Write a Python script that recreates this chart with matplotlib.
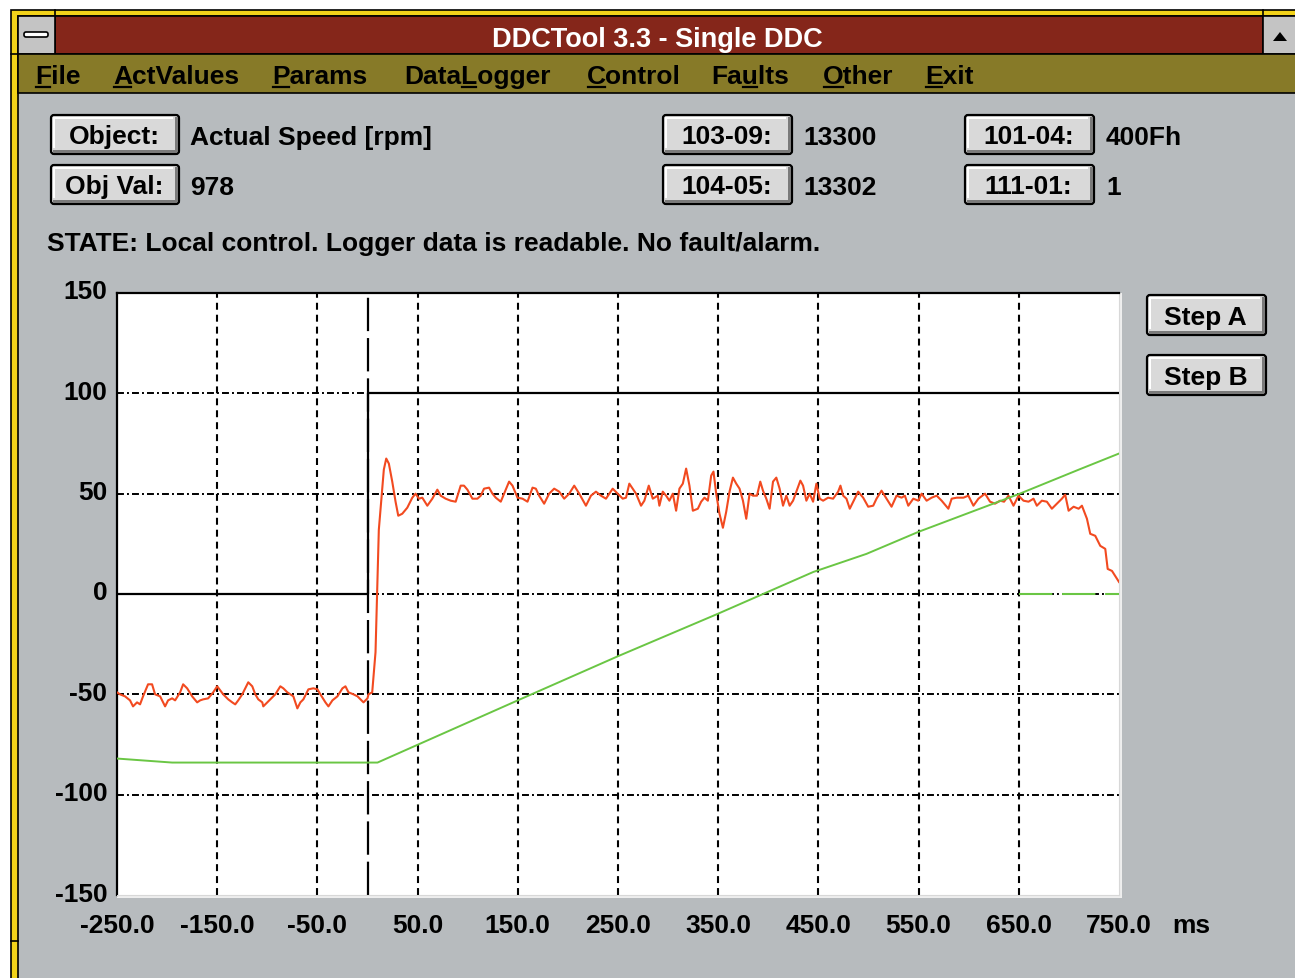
import numpy as np
import matplotlib
matplotlib.use("Agg")
import matplotlib.pyplot as plt
from matplotlib.patches import Rectangle, FancyBboxPatch, Polygon
from matplotlib.transforms import ScaledTranslation

# ---- data ----
x_ticks = [-250, -150, -50, 50, 150, 250, 350, 450, 550, 650, 750]
x_labels = ["-250.0", "-150.0", "-50.0", "50.0", "150.0", "250.0", "350.0", "450.0", "550.0", "650.0", "750.0"]
y_ticks = [-150, -100, -50, 0, 50, 100, 150]
y_labels = ["-150", "-100", "-50", "0", "50", "100", "150"]
grid_x = [-150, -50, 50, 150, 250, 350, 450, 550, 650]
grid_y = [-100, -50, 0, 50, 100]

# reference step (black)
step_t = [-250, 0, 0, 750]
step_v = [0, 0, 100, 100]

# actual speed (red)
red_t = [-250, -247, -242, -237, -234, -230, -227, -224, -219, -215, -212, -207, -202, -199, -195, -192,
         -187, -184, -180, -175, -170, -167, -164, -159, -154, -150, -147, -144, -139, -135, -132, -129,
         -125, -122, -119, -115, -112, -109, -105, -104, -100, -97, -92, -87, -84, -80, -77, -74, -70,
         -67, -64, -59, -54, -50, -47, -42, -39, -35, -30, -25, -22, -19, -14, -10, -7, -4, 0, 1,
         4.7, 8, 9.7, 11.3, 13, 16.3, 18.7, 21.3, 24.7, 28, 30.7, 34.7, 39.7, 44.7, 48, 51.3, 54.7, 59.7,
         64.7, 69.7, 73, 78, 83, 88, 93, 96.3, 99.7, 104.7, 109.7, 113, 116.3, 121.3, 124.7, 128, 133,
         136.3, 141.3, 144.7, 149.7, 154.7, 159.7, 164.7, 168, 171.3, 176.3, 181.3, 186.3, 191.3, 196.3,
         201.3, 206.3, 211.3, 218, 223, 228, 233, 238, 244.7, 249.7,
         254.7, 258, 261.3, 264.7, 268, 273, 276.3, 280.7, 284.7, 289.7, 291.3, 294.7, 298, 301.3, 304.7,
         308, 311.3, 314.7, 318, 321.3, 324.7, 329.7, 333, 336.3, 339.7, 343, 345.3, 348, 351.3, 354.7,
         358, 361.3, 364.7, 368, 371.3, 374.7, 378, 381.3, 384.7, 388.7, 392, 394.7, 398, 401.3, 404.7,
         408, 411.3, 414.7, 418, 421.3, 424.7, 428, 432, 434.7, 438, 441.3, 444.7, 448, 451.3, 454.7,
         459.7, 464.7, 469.7, 472, 474.7, 478, 481.3, 486.3, 489.7, 494.7,
         499.7, 504.7, 508, 513, 518, 523, 528, 533, 536.3, 539.7, 544.7, 549.7, 553, 558, 563, 568, 573,
         579.7, 583, 588, 594.7, 599.7, 604.7, 609.7, 616.3, 621.3, 626.3, 631.3, 635.3, 639.7, 644.7,
         649.7, 654.7, 659.7, 664.7, 668, 673, 678, 683, 688, 693, 696.3, 699.7, 704.7, 709.7, 713, 718,
         721.3, 726.3, 731.3, 736.3, 738.7, 743, 748, 750]
red_v = [-49, -50, -51, -53, -56, -54, -55, -51, -45, -45, -50, -51, -56, -53, -52, -53,
         -49, -45, -47, -51, -54, -53, -52.5, -52, -49, -46, -48, -50, -52.5, -54, -55, -53,
         -50, -47, -44, -46, -50, -52.5, -54, -56, -54, -52.5, -50, -46, -47, -49, -50, -51, -57,
         -54, -52.5, -47.5, -47, -47.5, -50, -54, -56, -53, -51, -47, -46, -49, -50, -51, -52.5, -54, -52, -50,
         -49, -29, 2.5, 32, 42, 62, 67.5, 65, 56, 46, 39, 40, 43, 48, 50, 47.5, 48, 44,
         47.5, 52, 49, 47.5, 46.5, 46, 54, 54, 52, 47.5, 47.5, 49, 52.5, 53, 50, 48, 46,
         50, 56, 54, 48, 47.5, 46, 53, 52.5, 49, 45, 50, 52.5, 51, 47.5,
         50, 54, 50, 44, 49, 51, 49, 47.5, 52.5, 50,
         47.5, 48, 55, 52.5, 50, 44, 46.5, 54, 47.5, 49, 44, 51, 49, 46.5, 50,
         41.5, 52.5, 55, 62.5, 54, 41.5, 42.5, 46, 48, 46.5, 59, 61, 50, 40, 33,
         41, 51, 58, 55, 52.5, 46.5, 37.5, 50, 49, 49, 56, 51.5, 47.5, 42.5, 56,
         58, 52.5, 44, 49, 44, 46.5, 51, 56.5, 54, 46.5, 50, 46, 55, 47.5, 46.5,
         48, 47.5, 51, 54, 49, 47.5, 42.5, 47.5, 51, 48,
         43.5, 44, 47.5, 51.5, 47.5, 43.5, 49, 48, 49, 44, 47.5, 46.5, 50, 46.5, 48, 49, 46.5,
         42.5, 47.5, 48, 48, 49, 44, 47.5, 50, 46, 45, 46.5, 46, 49, 44,
         49, 46.5, 46, 47.5, 44, 46.5, 46, 42.5, 45, 47.5, 49.5, 41.5, 43.5, 42.5, 44, 37.5,
         30, 29, 24, 22.5, 12.5, 11.5, 7.5, 6]

# ramp (green)
green_t = [-250, -195, 10, 150, 250, 349, 445, 498, 550, 651, 710, 750]
green_v = [-82, -84, -84, -53, -31, -10, 11, 20, 31, 50, 62, 70]
green_zero_t = [650, 750]
green_zero_v = [0, 0]

# window texts
title = "DDCTool 3.3 - Single DDC"
menu_items = ["File", "ActValues", "Params", "DataLogger", "Control", "Faults", "Other", "Exit"]
menu_hotkey = [0, 0, 0, 4, 0, 2, 0, 0]
state_text = "STATE: Local control. Logger data is readable. No fault/alarm."

# ---- layout (pixels) ----
W, H = 1295, 979
menu_x = [35, 113, 272, 404, 587, 711, 823, 925]
BG = "#b7bbbe"
FACE = "#d9d9d9"
RED = "#f24a20"
GREEN = "#6ac644"
FS = 19

plt.rcParams["font.family"] = ["Liberation Sans", "DejaVu Sans"]
plt.rcParams["font.weight"] = "bold"
plt.rcParams["lines.scale_dashes"] = False

fig = plt.figure(figsize=(W / 100, H / 100), dpi=100)
fig.patch.set_facecolor("white")

bg = fig.add_axes([0, 0, 1, 1])
bg.set_xlim(0, W)
bg.set_ylim(H, 0)
bg.axis("off")

def rect(x0, y0, x1, y1, fc, ec="none", lw=0, z=1):
    bg.add_patch(Rectangle((x0, y0), x1 - x0, y1 - y0, fc=fc, ec=ec, lw=lw, zorder=z))

# window frame
rect(11, 11, W + 5, H + 5, "#f2d21a", ec="black", lw=1.2)
rect(18, 17, W + 5, H + 5, BG, ec="black", lw=1.2, z=2)
bg.plot([55, 55], [11, 17], color="black", lw=1.2, zorder=3)
bg.plot([1263, 1263], [11, 17], color="black", lw=1.2, zorder=3)
bg.plot([11, 18], [55, 55], color="black", lw=1.2, zorder=3)
bg.plot([11, 18], [942, 942], color="black", lw=1.2, zorder=3)

# title bar
rect(55, 17, 1263, 55, "#85261a", ec="black", lw=1.2, z=3)
rect(18, 17, 55, 55, "#c4c4c4", ec="black", lw=1.2, z=3)
bg.add_patch(FancyBboxPatch((24, 33), 24, 5, boxstyle="round,pad=0,rounding_size=2",
                            fc="white", ec="black", lw=1.2, zorder=4))
rect(1263, 17, W + 5, 55, "#c4c4c4", ec="black", lw=1.2, z=3)
bg.add_patch(Polygon([[1273, 42], [1287, 42], [1280, 33]], closed=True, fc="black", ec="none", zorder=4))
bg.text(657, 47, title, color="white", fontsize=19.5, ha="center", va="baseline", zorder=5)

# menu bar
rect(18, 55, W + 5, 94, "#877a28", ec="black", lw=1.2, z=3)
renderer = fig.canvas.get_renderer()

def text_w(s):
    t = bg.text(0, 0, s, fontsize=FS)
    w = t.get_window_extent(renderer).width
    t.remove()
    return w

for name, x, k in zip(menu_items, menu_x, menu_hotkey):
    bg.text(x, 84, name, fontsize=FS, color="black", va="baseline", zorder=5)
    x0 = x + (text_w(name[:k]) if k > 0 else 0)
    x1 = x + text_w(name[:k + 1])
    bg.plot([x0 + 1, x1 - 1], [88, 88], color="black", lw=1.6, zorder=5)

# buttons
def button(x0, y0, x1, y1, label, base):
    bg.add_patch(FancyBboxPatch((x0, y0), x1 - x0, y1 - y0, boxstyle="round,pad=0,rounding_size=3",
                                fc=FACE, ec="black", lw=1.6, zorder=4))
    rect(x0 + 2, y1 - 4, x1 - 2, y1 - 1.5, "#7a7a7a", z=5)
    rect(x1 - 4, y0 + 2, x1 - 1.5, y1 - 2, "#7a7a7a", z=5)
    rect(x0 + 2, y0 + 2, x1 - 6, y0 + 4, "white", z=5)
    rect(x0 + 2, y0 + 2, x0 + 4, y1 - 6, "white", z=5)
    bg.text((x0 + x1) / 2 - 1, base, label, fontsize=FS, ha="center", va="baseline", zorder=6)

button(51, 116, 179, 155, "Object:", 144)
button(51, 166, 179, 205, "Obj Val:", 194)
button(663, 116, 792, 155, "103-09:", 144)
button(663, 166, 792, 205, "104-05:", 194)
button(965, 116, 1094, 155, "101-04:", 144)
button(965, 166, 1094, 205, "111-01:", 194)
button(1147, 296, 1266, 336, "Step A", 325)
button(1147, 356, 1266, 396, "Step B", 385)

bg.text(190, 145, "Actual Speed [rpm]", fontsize=FS, va="baseline", zorder=5)
bg.text(190, 195, "978", fontsize=FS, va="baseline", zorder=5)
bg.text(803, 145, "13300", fontsize=FS, va="baseline", zorder=5)
bg.text(803, 195, "13302", fontsize=FS, va="baseline", zorder=5)
bg.text(1106, 145, "400Fh", fontsize=FS, va="baseline", zorder=5)
bg.text(1106, 195, "1", fontsize=FS, va="baseline", zorder=5)
bg.text(47, 251, state_text, fontsize=FS, va="baseline", zorder=5)
bg.text(1172, 933, "ms", fontsize=FS, va="baseline", zorder=5)

# plot area edge highlight
rect(117, 294, 1122, 899, "#eeeeee", z=3)

# ---- chart ----
ax = fig.add_axes([117 / W, 1 - 896 / H, 1002 / W, 602 / H], zorder=5)
ax.set_facecolor("white")
ax.set_xlim(-250, 750)
ax.set_ylim(-150, 150)

for gx in grid_x:
    ax.axvline(gx, color="black", lw=1.5, ls=(0, (5, 3.6)), zorder=1)
for gy in grid_y:
    ax.axhline(gy, color="black", lw=1.4, ls=(0, (5, 2.2, 1.4, 2.2)), zorder=1)
ax.axvline(0, color="black", lw=1.6, ls=(0, (24, 5)), zorder=2)

ax.plot(step_t, step_v, color="black", lw=1.6, zorder=3)
ax.plot(red_t, red_v, color=RED, lw=1.5, zorder=4)
ax.plot(green_t, green_v, color=GREEN, lw=1.4, zorder=5)
ax.plot(green_zero_t, green_zero_v, color=GREEN, lw=1.5, ls=(0, (24, 7)), zorder=5)

ax.set_xticks(x_ticks)
ax.set_xticklabels(x_labels)
ax.set_yticks(y_ticks)
ax.set_yticklabels(y_labels)
ax.tick_params(length=0, labelsize=FS)
ax.tick_params(axis="x", pad=13)
ax.tick_params(axis="y", pad=7)
for lab in ax.get_yticklabels():
    lab.set_transform(lab.get_transform() + ScaledTranslation(0, 4 / 100, fig.dpi_scale_trans))

ax.spines["left"].set_color("black")
ax.spines["top"].set_color("black")
ax.spines["left"].set_linewidth(1.6)
ax.spines["top"].set_linewidth(1.6)
ax.spines["right"].set_color("#d8d8d8")
ax.spines["bottom"].set_color("#d8d8d8")

fig.savefig("out.png", dpi=100)
